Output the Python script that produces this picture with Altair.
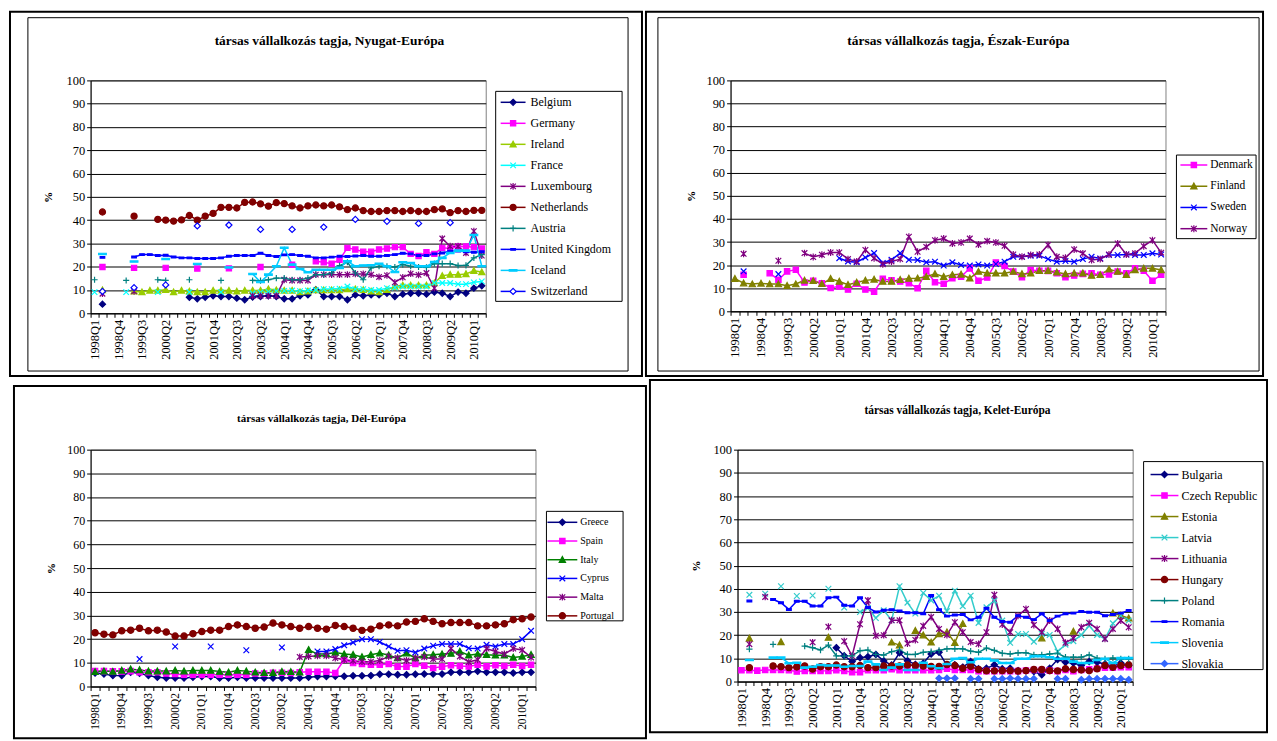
import altair as alt
import pandas as pd

N = None
QUARTERS = [f"{y}Q{q}" for y in range(1998, 2011) for q in (1, 2, 3, 4)][:50]
TICK_LABELS = QUARTERS[::3]
FONT = "Liberation Serif"

# ---------------- data (percent), index 0 = 1998Q1 ... 49 = 2010Q2 ----------------
# Nyugat-Európa
belgium = [N, 3.9, N, N, N, N, N, N, N, N, N, N, 6.9, 6.2, 6.9, 7.5, 7.2, 7.2, 6.5, 5.8, 7.0, 7.2, 7.5, 7.2, 6.2, 6.2, 7.5, 7.9, 10.1, 7.2, 7.2, 7.2, 5.8, 7.9, 7.5, 7.9, 7.9, 8.6, 7.2, 8.2, 8.6, 8.6, 8.2, 9.1, 8.6, 7.2, 9.1, 8.6, 10.8, 11.8]
germany = [N, 19.9, N, N, N, 19.5, N, N, N, 19.5, N, N, N, 19.2, N, N, N, 19.3, N, N, N, 19.9, N, N, N, 20.9, N, N, 22.3, 21.9, 21.3, 23.0, 28.1, 27.4, 26.4, 26.4, 27.4, 27.8, 28.4, 28.4, 25.5, 24.6, 26.2, 25.5, 28.1, 27.8, 28.7, 28.7, 28.4, 27.8]
ireland = [N, 10.0, N, N, N, 9.4, 9.1, 9.8, 9.8, 10.1, 9.1, 9.8, 9.4, 9.1, 9.1, 9.8, 9.8, 9.8, 9.4, 9.8, 9.8, 9.8, 10.4, 10.0, 9.8, 9.8, 9.1, 9.4, 10.0, 10.0, 10.0, 10.0, 10.4, 10.4, 10.1, 9.4, 9.1, 10.1, 11.5, 12.0, 12.0, 12.0, 12.0, 13.0, 16.1, 16.6, 16.6, 16.9, 18.3, 17.7]
france = [9.1, N, N, N, 9.1, N, N, N, 9.1, N, N, N, 9.1, N, N, N, 9.1, N, N, N, 8.6, 9.0, 9.2, 9.4, 9.6, 9.8, 9.5, 9.8, 10.0, 10.4, 10.4, 10.6, 11.5, 10.4, 10.4, 10.0, 10.0, 10.8, 11.1, 11.5, 11.5, 11.5, 11.5, 13.0, 13.0, 13.0, 12.5, 12.5, 13.3, 13.7]
luxembourg = [N, 8.4, N, N, N, 9.4, N, N, N, N, N, N, N, N, N, N, N, N, N, N, 7.5, 7.5, 7.5, 7.5, 14.4, 14.1, 14.1, 14.1, 16.6, 16.6, 16.6, 16.6, 16.6, 16.9, 16.9, 16.6, 15.6, 16.3, 13.3, 15.4, 17.0, 16.5, 17.3, 10.8, 32.1, 28.8, 28.8, 25.9, 35.3, 24.8]
netherlands = [N, 43.5, N, N, N, 41.7, N, N, 40.3, 40.0, 39.6, 40.1, 42.0, 40.0, 41.7, 42.9, 45.5, 45.5, 45.2, 47.6, 47.8, 47.0, 46.0, 47.5, 47.1, 46.1, 45.2, 46.1, 46.5, 46.1, 46.5, 45.7, 44.5, 45.2, 44.1, 43.7, 43.7, 44.1, 44.1, 43.7, 44.1, 43.7, 43.7, 44.5, 44.8, 43.2, 44.1, 43.7, 44.2, 44.2]
austria = [14.4, N, N, N, 14.1, N, N, N, 14.4, 14.1, N, N, 14.4, N, N, N, 14.1, N, N, N, 14.1, 14.0, 14.4, 15.1, 15.1, 14.4, 14.4, 15.1, 16.6, 16.6, 17.3, 20.5, 21.9, 17.3, 14.4, 19.5, 20.2, 20.2, 19.9, 20.9, 20.2, 19.9, 19.7, 21.3, 21.3, 21.3, 20.5, 20.6, 23.8, 25.2]
uk = [N, 24.0, N, N, N, 24.2, 25.2, 25.2, 24.8, 24.9, 24.2, 23.8, 23.8, 23.5, 23.5, 23.5, 23.8, 24.5, 24.8, 24.8, 24.8, 25.8, 24.8, 24.4, 25.1, 25.2, 24.8, 24.5, 23.8, 23.8, 24.1, 24.5, 24.4, 24.6, 24.8, 24.5, 24.5, 24.8, 25.2, 25.8, 25.5, 24.8, 24.8, 25.5, 25.9, 26.7, 26.7, 26.4, 26.2, 26.4]
iceland = [N, 25.5, N, N, N, 22.2, N, N, N, 23.3, N, N, N, 21.2, N, N, N, 19.7, N, N, 16.9, 13.4, 16.6, 20.2, 28.1, 20.9, 19.0, 17.6, 18.7, 18.7, 18.7, 19.5, 22.3, 20.2, 20.5, 20.6, 21.3, 20.2, 17.7, 21.9, 21.6, 20.2, 20.2, 22.0, 23.8, 25.9, 26.9, 26.9, 33.6, 20.2]
switzerland = [N, 9.4, N, N, N, 11.0, N, N, N, 12.2, N, N, N, 37.5, N, N, N, 37.9, N, N, N, 36.0, N, N, N, 36.0, N, N, N, 37.0, N, N, N, 40.3, N, N, N, 39.5, N, N, N, 38.6, N, N, N, 38.9, N, N, N, N]

# Észak-Európa
denmark = [N, 15.8, N, N, 16.5, 13.7, 17.3, 18.0, 12.5, 13.2, 12.1, 10.1, 10.8, 9.4, 11.9, 9.4, 8.5, 14.1, 13.4, 12.9, 12.2, 10.0, 17.5, 12.6, 11.9, 14.3, 15.0, 18.6, 13.2, 14.6, 21.1, 19.6, 17.2, 14.8, 17.9, 17.6, 17.5, 16.5, 14.8, 15.5, 16.2, 16.5, 15.8, 16.0, 17.2, 16.5, 18.6, 17.6, 13.2, 15.8]
finland = [14.1, 12.2, 11.8, 12.1, 11.8, 11.8, 11.1, 11.8, 13.4, 13.2, 11.9, 14.1, 12.9, 11.5, 12.5, 13.4, 13.8, 12.9, 12.9, 13.7, 14.2, 14.3, 15.0, 16.2, 15.0, 15.8, 16.0, 14.3, 17.2, 16.5, 16.5, 16.5, 17.2, 16.2, 16.5, 17.6, 17.6, 16.9, 16.2, 16.5, 16.5, 15.5, 15.8, 18.2, 17.2, 15.8, 17.9, 18.6, 18.6, 17.9]
sweden = [N, 17.3, N, N, N, 16.1, N, N, N, N, N, N, 23.0, 21.6, 21.3, 23.3, 25.2, 20.9, 22.3, 25.2, 22.3, 22.2, 21.2, 21.5, 19.8, 21.2, 20.1, 19.8, 20.3, 19.8, 20.5, 21.5, 23.6, 23.6, 24.1, 24.1, 22.6, 21.5, 21.8, 21.5, 22.6, 23.6, 22.9, 24.4, 24.4, 24.6, 24.4, 24.4, 25.1, 24.6]
norway = [N, 24.9, N, N, N, 21.9, N, N, 25.2, 23.5, 24.5, 25.5, 25.5, 22.6, 21.6, 26.6, 23.0, 20.4, 21.6, 22.6, 32.3, 25.8, 27.9, 30.8, 31.5, 29.4, 29.8, 31.5, 28.9, 30.4, 29.8, 28.4, 24.6, 23.6, 24.4, 24.6, 28.7, 23.6, 23.2, 26.8, 25.1, 22.2, 22.6, 24.6, 29.4, 24.6, 25.1, 28.2, 30.8, 25.4]

# Dél-Európa
greece = [5.7, 5.3, 4.6, 4.6, 6.0, 5.6, 4.6, 3.9, 3.6, 3.6, 3.6, 3.9, 4.2, 4.2, 3.6, 3.6, 3.9, 3.6, 3.6, 3.6, 3.6, 3.6, 3.6, 3.6, 3.9, 4.2, 4.2, 4.3, 4.3, 4.5, 4.5, 4.6, 5.2, 5.2, 5.0, 5.0, 5.2, 5.3, 5.3, 5.3, 6.0, 6.0, 6.0, 6.4, 6.0, 6.0, 6.0, 5.7, 6.0, 6.0]
spain = [6.5, 6.5, 6.4, 6.4, 6.5, 6.0, 6.0, 6.0, 5.5, 5.3, 5.0, 5.0, 5.0, 5.0, 5.0, 5.0, 5.0, 5.0, 5.5, 5.5, 5.8, 5.8, 5.7, 6.0, 6.2, 6.2, 6.2, 5.7, 11.3, 9.9, 9.5, 9.2, 9.2, 9.5, 8.4, 8.4, 9.5, 8.8, 7.8, 8.4, 9.0, 8.7, 8.5, 9.2, 8.5, 9.0, 8.7, 9.2, 8.7, 9.2]
italy = [6.2, 6.5, 6.3, 6.8, 7.3, 7.0, 6.5, 6.5, 6.5, 6.8, 6.5, 6.8, 6.8, 6.8, 6.3, 6.0, 6.8, 6.5, 6.0, 5.8, 5.8, 6.3, 6.2, 6.0, 15.5, 13.7, 13.7, 14.4, 13.7, 13.4, 12.5, 13.4, 14.1, 13.2, 12.0, 14.1, 12.0, 13.2, 13.4, 13.7, 13.9, 14.8, 13.2, 13.7, 13.4, 13.2, 13.2, 12.3, 12.7, 13.4]
cyprus = [N, N, N, N, N, 11.6, N, N, N, 16.9, N, N, N, 16.9, N, N, N, 15.3, N, N, N, 16.5, N, N, N, 14.8, 14.8, 15.8, 17.4, 18.6, 20.0, 20.0, 18.8, 16.9, 15.1, 15.3, 14.4, 16.0, 17.2, 17.9, 17.9, 17.9, 16.2, 16.0, 17.6, 16.9, 17.9, 17.9, 20.0, 23.5]
malta = [N] * 23 + [12.5, 12.7, 13.0, 13.0, 12.0, 11.3, 10.9, 10.5, 10.5, 11.0, 12.7, 12.0, 11.0, 12.0, 12.5, 11.6, 11.6, 16.0, 12.7, 10.4, 11.3, 16.0, 14.8, 13.7, 16.0, 15.4, 12.3]
portugal = [22.7, 22.1, 21.8, 23.5, 23.8, 24.6, 23.5, 23.8, 23.0, 21.3, 21.3, 22.3, 23.2, 23.8, 23.8, 25.3, 26.0, 25.3, 24.6, 25.1, 26.8, 26.0, 25.3, 24.6, 25.3, 24.6, 24.2, 25.8, 25.3, 24.6, 23.7, 24.2, 25.6, 26.0, 25.6, 27.2, 27.5, 28.6, 27.5, 26.5, 27.0, 27.0, 27.0, 25.6, 25.6, 26.0, 26.5, 28.2, 28.6, 29.3]

# Kelet-Európa
bulgaria = [N] * 12 + [14.6, 11.1, 8.6, 10.3, 10.7, 11.7, 8.9, 7.1, 12.4, 9.0, 7.4, 7.9, 11.9, 12.6, 6.9, 7.2, 6.2, 8.6, 5.5, 5.7, 7.2, 5.5, 5.7, 4.7, 4.7, 4.3, 2.9, 5.7, 9.5, 8.3, 8.0, 6.9, 8.6, 8.3, 7.6, 6.6, 8.0, 6.9]
czech = [4.9, 4.9, 4.7, 5.0, 5.0, 5.0, 4.9, 4.3, 4.6, 4.6, 4.6, 4.6, 4.9, 4.6, 4.0, 4.0, 4.9, 4.9, 4.9, 5.3, 4.9, 4.9, 4.9, 4.9, 4.9, 5.0, 5.5, 5.0, 5.0, 5.0, 4.5, 4.5, 4.5, 4.5, 4.5, 4.5, 4.8, 5.0, 5.0, 4.7, 4.5, 5.0, 4.5, 5.0, 5.3, 5.6, 6.0, 6.0, 6.2, 6.2]
estonia = [N, 18.6, N, N, N, 17.1, N, N, N, N, N, 19.0, N, N, N, N, N, N, N, 16.9, 15.7, N, 21.9, 20.0, 16.9, 20.5, 21.3, 16.7, 24.9, N, N, N, N, N, N, N, N, N, 18.7, N, N, N, 21.6, N, N, N, N, 29.5, 28.5, 27.3]
latvia = [N, 37.4, N, 37.9, N, 41.1, N, 36.9, N, 37.1, N, 40.0, N, 31.9, N, 30.0, 31.7, 27.4, 30.7, 26.4, 41.1, 34.0, 29.3, 38.2, 35.0, 37.0, 30.3, 39.2, 32.5, 37.0, 25.3, 32.0, 34.9, 26.3, 16.7, 20.5, 20.5, 17.2, 20.5, 20.1, 12.9, 15.9, 17.4, 20.1, 24.1, 20.1, 18.4, 25.1, 28.4, 26.3]
lithuania = [N, 16.1, N, 36.5, N, N, N, N, N, 16.9, N, 23.6, N, 17.4, 11.0, 24.7, 35.0, 19.7, 20.0, 26.4, 26.4, 16.4, 17.9, 24.0, 27.8, 22.7, 20.1, 25.6, 21.3, 17.0, 16.2, 21.3, 37.4, 24.6, 21.3, 28.4, 31.3, 24.4, 21.3, 26.3, 22.7, 16.7, 18.7, 23.4, 25.3, 22.7, 18.4, 22.7, 26.3, 23.4]
hungary = [N, 6.0, N, N, 6.7, 6.4, 6.0, 6.3, 6.7, 5.4, 6.4, 6.4, 7.1, 6.4, 6.4, 6.9, 6.0, 6.0, 6.7, 6.7, 6.7, 7.1, 6.9, 6.7, 6.5, 6.5, 7.3, 6.9, 5.7, 6.5, 5.2, 4.6, 4.6, 4.7, 4.7, 4.5, 4.7, 5.2, 5.2, 4.7, 4.6, 5.5, 5.2, 5.0, 4.7, 5.5, 6.9, 6.2, 6.9, 7.2]
poland = [N, 14.0, N, N, 16.0, N, N, N, 15.3, 14.6, 13.6, 15.7, 11.1, 11.0, 11.1, 13.3, 13.6, 11.7, 11.4, 12.9, 13.6, 11.7, 11.7, 12.6, 12.9, 13.4, 14.1, 14.1, 14.1, 13.1, 12.6, 14.4, 13.4, 12.2, 11.9, 12.4, 12.4, 11.5, 11.5, 11.9, 12.2, 10.5, 10.5, 10.5, 11.5, 10.1, 9.8, 10.1, 9.8, 9.8]
romania = [N, 34.7, N, N, 35.4, 34.0, 31.1, 34.6, 34.6, 32.6, 32.6, 36.1, 36.4, 32.9, 32.6, 36.1, 31.9, 30.0, 30.7, 31.0, 30.4, 29.7, 29.7, 29.2, 37.1, 31.0, 28.2, 28.7, 28.9, 26.6, 27.7, 31.6, 27.7, 25.9, 25.6, 28.4, 27.7, 26.7, 29.2, 26.3, 28.2, 29.2, 29.5, 30.2, 29.9, 29.9, 28.4, 28.9, 29.5, 30.6]
slovenia = [N, 9.3, N, N, 10.3, 10.3, 7.9, 8.1, 6.0, 6.4, 7.1, 6.9, 6.9, 6.4, 6.7, 6.7, 8.6, 7.4, 5.0, 6.0, 7.4, 5.0, 5.0, 8.1, 6.6, 5.7, 7.6, 9.8, 10.1, 8.3, 9.8, 9.8, 9.1, 8.0, 8.0, 9.8, 9.8, 10.9, 10.9, 10.5, 9.8, 9.8, 8.6, 8.0, 8.0, 9.3, 9.8, 8.0, 10.1, 10.1]
slovakia = [N] * 25 + [1.4, 1.4, 1.4, N, 1.2, 1.2, N, 1.2, 1.2, 1.4, 1.2, 1.2, 1.2, N, N, 1.2, 1.2, N, 0.8, 1.2, 1.2, 1.2, 1.2, 1.2, 0.8]

# ---------------- marker shapes ----------------
DIAMOND = "M0,-1L1,0L0,1L-1,0Z"
SQUARE = "M-0.85,-0.85H0.85V0.85H-0.85Z"
TRIANGLE = "M0,-1L1,0.85L-1,0.85Z"
XMARK = "M-0.9,-0.9L0.9,0.9M-0.9,0.9L0.9,-0.9"
STAR = "M-0.9,-0.9L0.9,0.9M-0.9,0.9L0.9,-0.9M0,-1.1V1.1"
PLUS = "M-1,0H1M0,-1V1"
CIRCLE = "circle"
SHORTBAR = "M-0.75,-0.28H0.75V0.28H-0.75Z"
LONGBAR = "M-1.25,-0.22H1.25V0.22H-1.25Z"

LABEL_EXPR = ("indexof([" + ",".join("'" + t + "'" for t in TICK_LABELS) +
              "], datum.value) >= 0 ? datum.value : ''")

panels = [
    dict(names=["Belgium", "Germany", "Ireland", "France", "Luxembourg", "Netherlands",
                "Austria", "United Kingdom", "Iceland", "Switzerland"],
         values=[belgium, germany, ireland, france, luxembourg, netherlands, austria, uk, iceland, switzerland],
         styles=[("#000080", DIAMOND, "#000080"), ("#FF00FF", SQUARE, "#FF00FF"),
                 ("#99CC00", TRIANGLE, "#99CC00"), ("#00FFFF", XMARK, "#00FFFF"),
                 ("#800080", STAR, "#800080"), ("#800000", CIRCLE, "#800000"),
                 ("#008080", PLUS, "#008080"), ("#0000FF", SHORTBAR, "#0000FF"),
                 ("#00CCFF", LONGBAR, "#00CCFF"), ("#0000FF", DIAMOND, "#FFFFFF")],
         title="társas vállalkozás tagja, Nyugat-Európa", tfs=13.5, tbase=42, tcx=330,
         W=397, H=234, ox=90, oy=78, cell=(9, 9, 644, 375), inner=(27, 15, 630, 370),
         ytx=48, xfs=12.5, yfs=12.5, ms=38,
         leg=dict(box=(497, 89, 624, 300), y=(100, 290), r=(502, 527), m=514.5, t=532, fs=12)),
    dict(names=["Denmark", "Finland", "Sweden", "Norway"],
         values=[denmark, finland, sweden, norway],
         styles=[("#FF00FF", SQUARE, "#FF00FF"), ("#808000", TRIANGLE, "#808000"),
                 ("#0000FF", XMARK, "#0000FF"), ("#800080", STAR, "#800080")],
         title="társas vállalkozás tagja, Észak-Európa", tfs=13.5, tbase=42, tcx=960,
         W=437, H=232, ox=731, oy=78, cell=(646, 9, 1266, 375), inner=(658, 15, 1262, 370),
         ytx=692, xfs=12.5, yfs=12.5, ms=40,
         leg=dict(box=(1179, 153, 1259, 237), y=(163, 227), r=(1183, 1210), m=1196.5, t=1213, fs=11.5)),
    dict(names=["Greece", "Spain", "Italy", "Cyprus", "Malta", "Portugal"],
         values=[greece, spain, italy, cyprus, malta, portugal],
         styles=[("#000080", DIAMOND, "#000080"), ("#FF00FF", SQUARE, "#FF00FF"),
                 ("#008000", TRIANGLE, "#008000"), ("#0000FF", XMARK, "#0000FF"),
                 ("#800080", STAR, "#800080"), ("#800000", CIRCLE, "#800000")],
         title="társas vállalkozás tagja, Dél-Európa", tfs=11, tbase=413, tcx=318,
         W=447, H=238, ox=86, oy=441, cell=(9, 377, 644, 731), inner=None,
         ytx=47, xfs=11.5, yfs=12, ms=40,
         leg=dict(box=(544, 503, 621, 613), y=(514, 608), r=(545, 575), m=560, t=578, fs=10)),
    dict(names=["Bulgaria", "Czech Republic", "Estonia", "Latvia", "Lithuania", "Hungary",
                "Poland", "Romania", "Slovenia", "Slovakia"],
         values=[bulgaria, czech, estonia, latvia, lithuania, hungary, poland, romania, slovenia, slovakia],
         styles=[("#000080", DIAMOND, "#000080"), ("#FF00FF", SQUARE, "#FF00FF"),
                 ("#808000", TRIANGLE, "#808000"), ("#33CCCC", XMARK, "#33CCCC"),
                 ("#800080", STAR, "#800080"), ("#800000", CIRCLE, "#800000"),
                 ("#008080", PLUS, "#008080"), ("#0000FF", SHORTBAR, "#0000FF"),
                 ("#00CCFF", LONGBAR, "#00CCFF"), ("#3366FF", DIAMOND, "#3366FF")],
         title="társas vállalkozás tagja, Kelet-Európa", tfs=11.5, tbase=411, tcx=955,
         W=397, H=233, ox=734, oy=447, cell=(646, 377, 1266, 731), inner=None,
         ytx=693, xfs=12.5, yfs=12.5, ms=40,
         leg=dict(box=(1142, 459, 1262, 668), y=(472, 662), r=(1149, 1177), m=1163, t=1180, fs=12)),
]

ONE = pd.DataFrame({"k": [0]})


def make_panel(p):
    names = p["names"]
    W, H, ox, oy = p["W"], p["H"], p["ox"], p["oy"]
    rows = []
    for name, vals in zip(names, p["values"]):
        for q, v in zip(QUARTERS, vals):
            rows.append({"q": q, "series": name, "v": v})
    df = pd.DataFrame(rows)
    colors = [s[0] for s in p["styles"]]
    shapes = [s[1] for s in p["styles"]]
    fills = [s[2] for s in p["styles"]]

    col = alt.Color("series:N", scale=alt.Scale(domain=names, range=colors), legend=None)
    stroke = alt.Stroke("series:N", scale=alt.Scale(domain=names, range=colors), legend=None)
    fill = alt.Fill("series:N", scale=alt.Scale(domain=names, range=fills), legend=None)
    shape = alt.Shape("series:N", scale=alt.Scale(domain=names, range=shapes), legend=None)

    x = alt.X("q:N", sort=QUARTERS,
              scale=alt.Scale(type="band", domain=QUARTERS, paddingInner=0, paddingOuter=0),
              axis=alt.Axis(title=None, labelAngle=270, labelFont=FONT, labelFontSize=p["xfs"],
                            labelColor="black", labelExpr=LABEL_EXPR, labelOverlap=False,
                            labelPadding=2, tickBand="extent", tickSize=4, tickColor="black",
                            domainColor="black", grid=False))
    yscale = alt.Scale(domain=[0, 100], nice=False, zero=True)
    y_axis = alt.Y("v:Q", scale=yscale,
                   axis=alt.Axis(values=list(range(0, 101, 10)), title="%", grid=True,
                                 gridColor="black", gridWidth=1, tickSize=4, tickColor="black",
                                 domainColor="black", labelFont=FONT, labelFontSize=p["yfs"],
                                 labelColor="black", labelPadding=2, titleFont=FONT,
                                 titleFontSize=11, titleFontWeight="bold", titleAngle=270,
                                 titleX=p["ytx"] - ox, titleY=H / 2, titleAlign="center",
                                 titleBaseline="middle", titleColor="black"))
    y_plain = alt.Y("v:Q", scale=yscale, axis=None)

    layers = []
    c = p["cell"]
    layers.append(alt.Chart(ONE).mark_rect(fill="white", fillOpacity=0, stroke="black", strokeWidth=2).encode(
        x=alt.value(c[0] - ox), x2=alt.value(c[2] - ox), y=alt.value(c[1] - oy), y2=alt.value(c[3] - oy)))
    if p["inner"]:
        b = p["inner"]
        layers.append(alt.Chart(ONE).mark_rect(fill="white", fillOpacity=0, stroke="black", strokeWidth=1).encode(
            x=alt.value(b[0] - ox), x2=alt.value(b[2] - ox), y=alt.value(b[1] - oy), y2=alt.value(b[3] - oy)))
    # panel title (real text)
    layers.append(alt.Chart(ONE).mark_text(font=FONT, fontSize=p["tfs"], fontWeight="bold",
                                           color="black", align="center", baseline="alphabetic").encode(
        x=alt.value(p["tcx"] - ox), y=alt.value(p["tbase"] - oy), text=alt.value(p["title"])))

    base = alt.Chart(df)
    layers.append(base.mark_line(strokeWidth=1.5, invalid="break-paths-filter-domains").encode(
        x=x, y=y_axis, color=col))
    layers.append(base.mark_point(size=p["ms"], strokeWidth=1.2, opacity=1).encode(
        x=x, y=y_plain, shape=shape, stroke=stroke, fill=fill))

    lg = p["leg"]
    ldf = pd.DataFrame({"series": names})
    ly = alt.Y("series:N", scale=alt.Scale(type="point", domain=names, padding=0,
                                           range=[lg["y"][0] - oy, lg["y"][1] - oy]), axis=None)
    bx = lg["box"]
    layers.append(alt.Chart(ONE).mark_rect(fill="white", stroke="black", strokeWidth=1).encode(
        x=alt.value(bx[0] - ox), x2=alt.value(bx[2] - ox), y=alt.value(bx[1] - oy), y2=alt.value(bx[3] - oy)))
    layers.append(alt.Chart(ldf).mark_rule(strokeWidth=1.5).encode(
        x=alt.value(lg["r"][0] - ox), x2=alt.value(lg["r"][1] - ox), y=ly, color=col))
    layers.append(alt.Chart(ldf).mark_point(size=p["ms"], strokeWidth=1.2, opacity=1).encode(
        x=alt.value(lg["m"] - ox), y=ly, shape=shape, stroke=stroke, fill=fill))
    layers.append(alt.Chart(ldf).mark_text(align="left", baseline="middle", font=FONT,
                                           fontSize=lg["fs"], color="black").encode(
        x=alt.value(lg["t"] - ox), y=ly, text="series:N"))

    return alt.layer(*layers).resolve_scale(y="independent").properties(width=W, height=H)


charts = [make_panel(p) for p in panels]
IND = dict(color="independent", stroke="independent", fill="independent", shape="independent")
row1 = alt.hconcat(charts[0], charts[1], spacing=0).resolve_scale(**IND)
row2 = alt.hconcat(charts[2], charts[3], spacing=0).resolve_scale(**IND)
chart = alt.vconcat(row1, row2, spacing=0).resolve_scale(**IND).properties(
    padding=0, background="white"
).configure_view(stroke="#808080", strokeWidth=1)

chart.save("out.html", embed_options={"renderer": "svg", "actions": False})
